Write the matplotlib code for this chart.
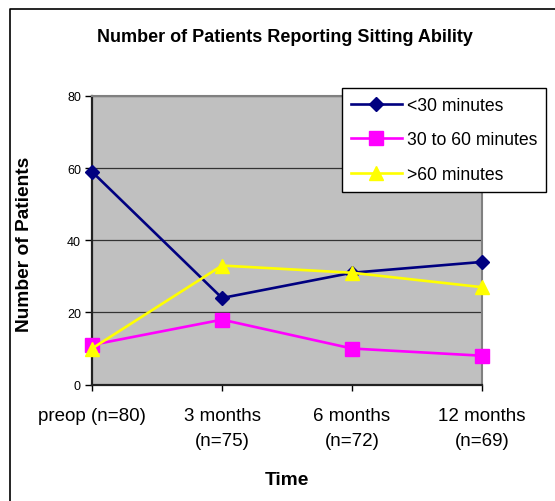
import matplotlib
matplotlib.use('Agg')
from matplotlib import pyplot as plt
from matplotlib.lines import Line2D

plt.rcParams['font.family'] = ['Liberation Sans', 'DejaVu Sans']

# data
time_labels = ['preop (n=80)', '3 months\n(n=75)', '6 months\n(n=72)', '12 months\n(n=69)']
under_30 = [59, 24, 31, 34]
from_30_to_60 = [11, 18, 10, 8]
over_60 = [10, 33, 31, 27]
y_ticks = [0, 20, 40, 60, 80]

fig = plt.figure(figsize=(5.55, 5.02), dpi=100)
ax = fig.add_axes([0.1658, 0.2319, 0.7027, 0.5749])
ax.set_facecolor('#C0C0C0')

x = range(len(time_labels))
ax.plot(x, under_30, color='#000080', lw=1.9, marker='D', ms=6.8,
        label='<30 minutes', zorder=3, clip_on=False)
ax.plot(x, from_30_to_60, color='#FF00FF', lw=1.9, marker='s', ms=10,
        label='30 to 60 minutes', zorder=3, clip_on=False)
ax.plot(x, over_60, color='#FFFF00', lw=1.9, marker='^', ms=10.5,
        label='>60 minutes', zorder=4, clip_on=False)

ax.set_xlim(0, 3)
ax.set_ylim(0, 80)
ax.set_yticks(y_ticks)
ax.set_yticklabels([str(v) for v in y_ticks], fontsize=9)
ax.set_xticks(list(x))
ax.set_xticklabels(time_labels, fontsize=13.5, linespacing=1.6)
ax.tick_params(axis='x', length=4, width=1, pad=12)
ax.tick_params(axis='y', length=5, width=1, pad=3)
ax.yaxis.grid(True, color='#333333', lw=0.9)
ax.set_axisbelow(True)

for side in ['left', 'bottom']:
    ax.spines[side].set_linewidth(1.6)
    ax.spines[side].set_color('#222222')
for side in ['top', 'right']:
    ax.spines[side].set_linewidth(1.5)
    ax.spines[side].set_color('#808080')

# titles placed in figure coords
fig.text(285 / 555, 1 - 37 / 502, 'Number of Patients Reporting Sitting Ability',
         fontsize=13, fontweight='bold', ha='center', va='center')
fig.text(25 / 555, 1 - 244 / 502, 'Number of Patients', fontsize=13.8, fontweight='bold',
         rotation=90, ha='center', va='center')
fig.text(287 / 555, 1 - 481 / 502, 'Time', fontsize=13.8, fontweight='bold',
         ha='center', va='center')

leg = ax.legend(loc='upper left', bbox_to_anchor=(342 / 555, 1 - 89 / 502),
                bbox_transform=fig.transFigure, fontsize=12.7, frameon=True,
                fancybox=False, edgecolor='black', framealpha=1, borderpad=0.5,
                labelspacing=1.0, handlelength=2.9, handletextpad=0.27, borderaxespad=0)
leg.get_frame().set_linewidth(1)

# outer chart border (top and left only visible)
fig.add_artist(Line2D([10 / 555, 10 / 555, 1], [0, 1 - 10 / 502, 1 - 10 / 502],
                      transform=fig.transFigure, color='black', lw=1.2))

fig.savefig('out.png', dpi=100)
